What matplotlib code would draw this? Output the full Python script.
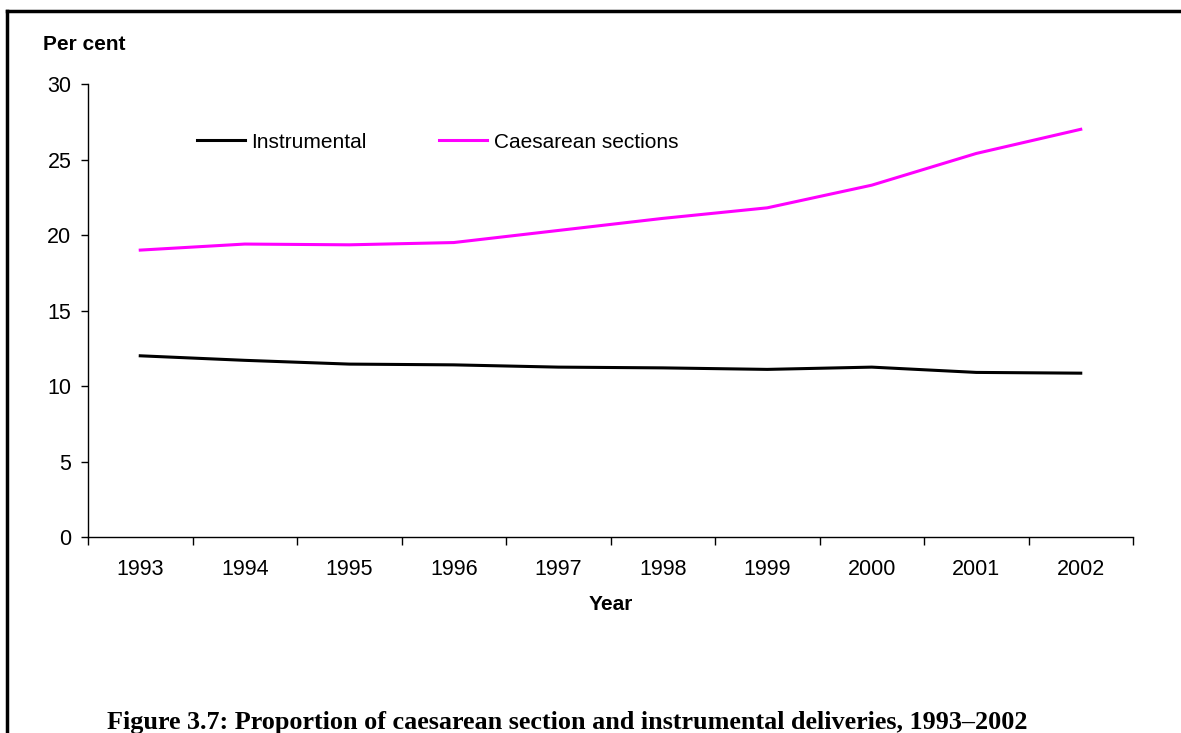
import numpy as np
import matplotlib.pyplot as plt
from matplotlib.lines import Line2D

# data
years = ['1993', '1994', '1995', '1996', '1997', '1998', '1999', '2000', '2001', '2002']
instrumental = [12.0, 11.7, 11.45, 11.4, 11.25, 11.2, 11.1, 11.25, 10.9, 10.85]
caesarean = [19.0, 19.4, 19.35, 19.5, 20.3, 21.1, 21.8, 23.3, 25.4, 27.0]
y_ticks = [0, 5, 10, 15, 20, 25, 30]

plt.rcParams['font.family'] = ['Liberation Sans', 'DejaVu Sans']

W, H = 1181, 733
fig = plt.figure(figsize=(W / 100, H / 100), dpi=100)
ax = fig.add_axes([88 / W, 1 - 537 / H, (1133 - 88) / W, (537 - 84) / H])

x = np.arange(len(years))
ax.plot(x, instrumental, color='black', lw=2.2, label='Instrumental')
ax.plot(x, caesarean, color='#ff00ff', lw=2.2, label='Caesarean sections')

# category axis: ticks between categories, labels centred
ax.set_xlim(-0.5, len(years) - 0.5)
ax.set_xticks(np.arange(-0.5, len(years)), minor=False)
ax.set_xticklabels([])
ax.set_xticks(x, minor=True)
ax.set_xticklabels(years, minor=True)
ax.tick_params(axis='x', which='major', direction='out', length=6, width=1)
ax.tick_params(axis='x', which='minor', length=0, pad=15.5, labelsize=15.5)

ax.set_ylim(0, 30)
ax.set_yticks(y_ticks)
ax.tick_params(axis='y', direction='out', length=5, width=1, pad=7, labelsize=15.5)

for side in ['top', 'right']:
    ax.spines[side].set_visible(False)
for side in ['left', 'bottom']:
    ax.spines[side].set_linewidth(1)

ax.set_xlabel('Year', fontweight='bold', fontsize=15, labelpad=11)
fig.text(43 / W, 1 - 45 / H, 'Per cent', fontweight='bold', fontsize=15, va='center', ha='left')

ax.legend(loc='center left', bbox_to_anchor=(197 / W, 1 - 142 / H), bbox_transform=fig.transFigure,
          ncol=2, frameon=False, fontsize=15, handlelength=2.3, handletextpad=0.3,
          columnspacing=3.5, borderpad=0, borderaxespad=0)

fig.text(107 / W, 1 - 729 / H, 'Figure 3.7: Proportion of caesarean section and instrumental deliveries, 1993\u20132002',
         fontweight='bold', fontsize=18.8, va='baseline', ha='left', family=['Liberation Serif', 'DejaVu Serif'])

# page frame: top and left rule
fig.add_artist(Line2D([7 / W, 1], [1 - 11 / H, 1 - 11 / H], color='black', lw=2.5, transform=fig.transFigure))
fig.add_artist(Line2D([7 / W, 7 / W], [0, 1 - 11 / H], color='black', lw=2.5, transform=fig.transFigure))

fig.savefig('out.png', dpi=100)
